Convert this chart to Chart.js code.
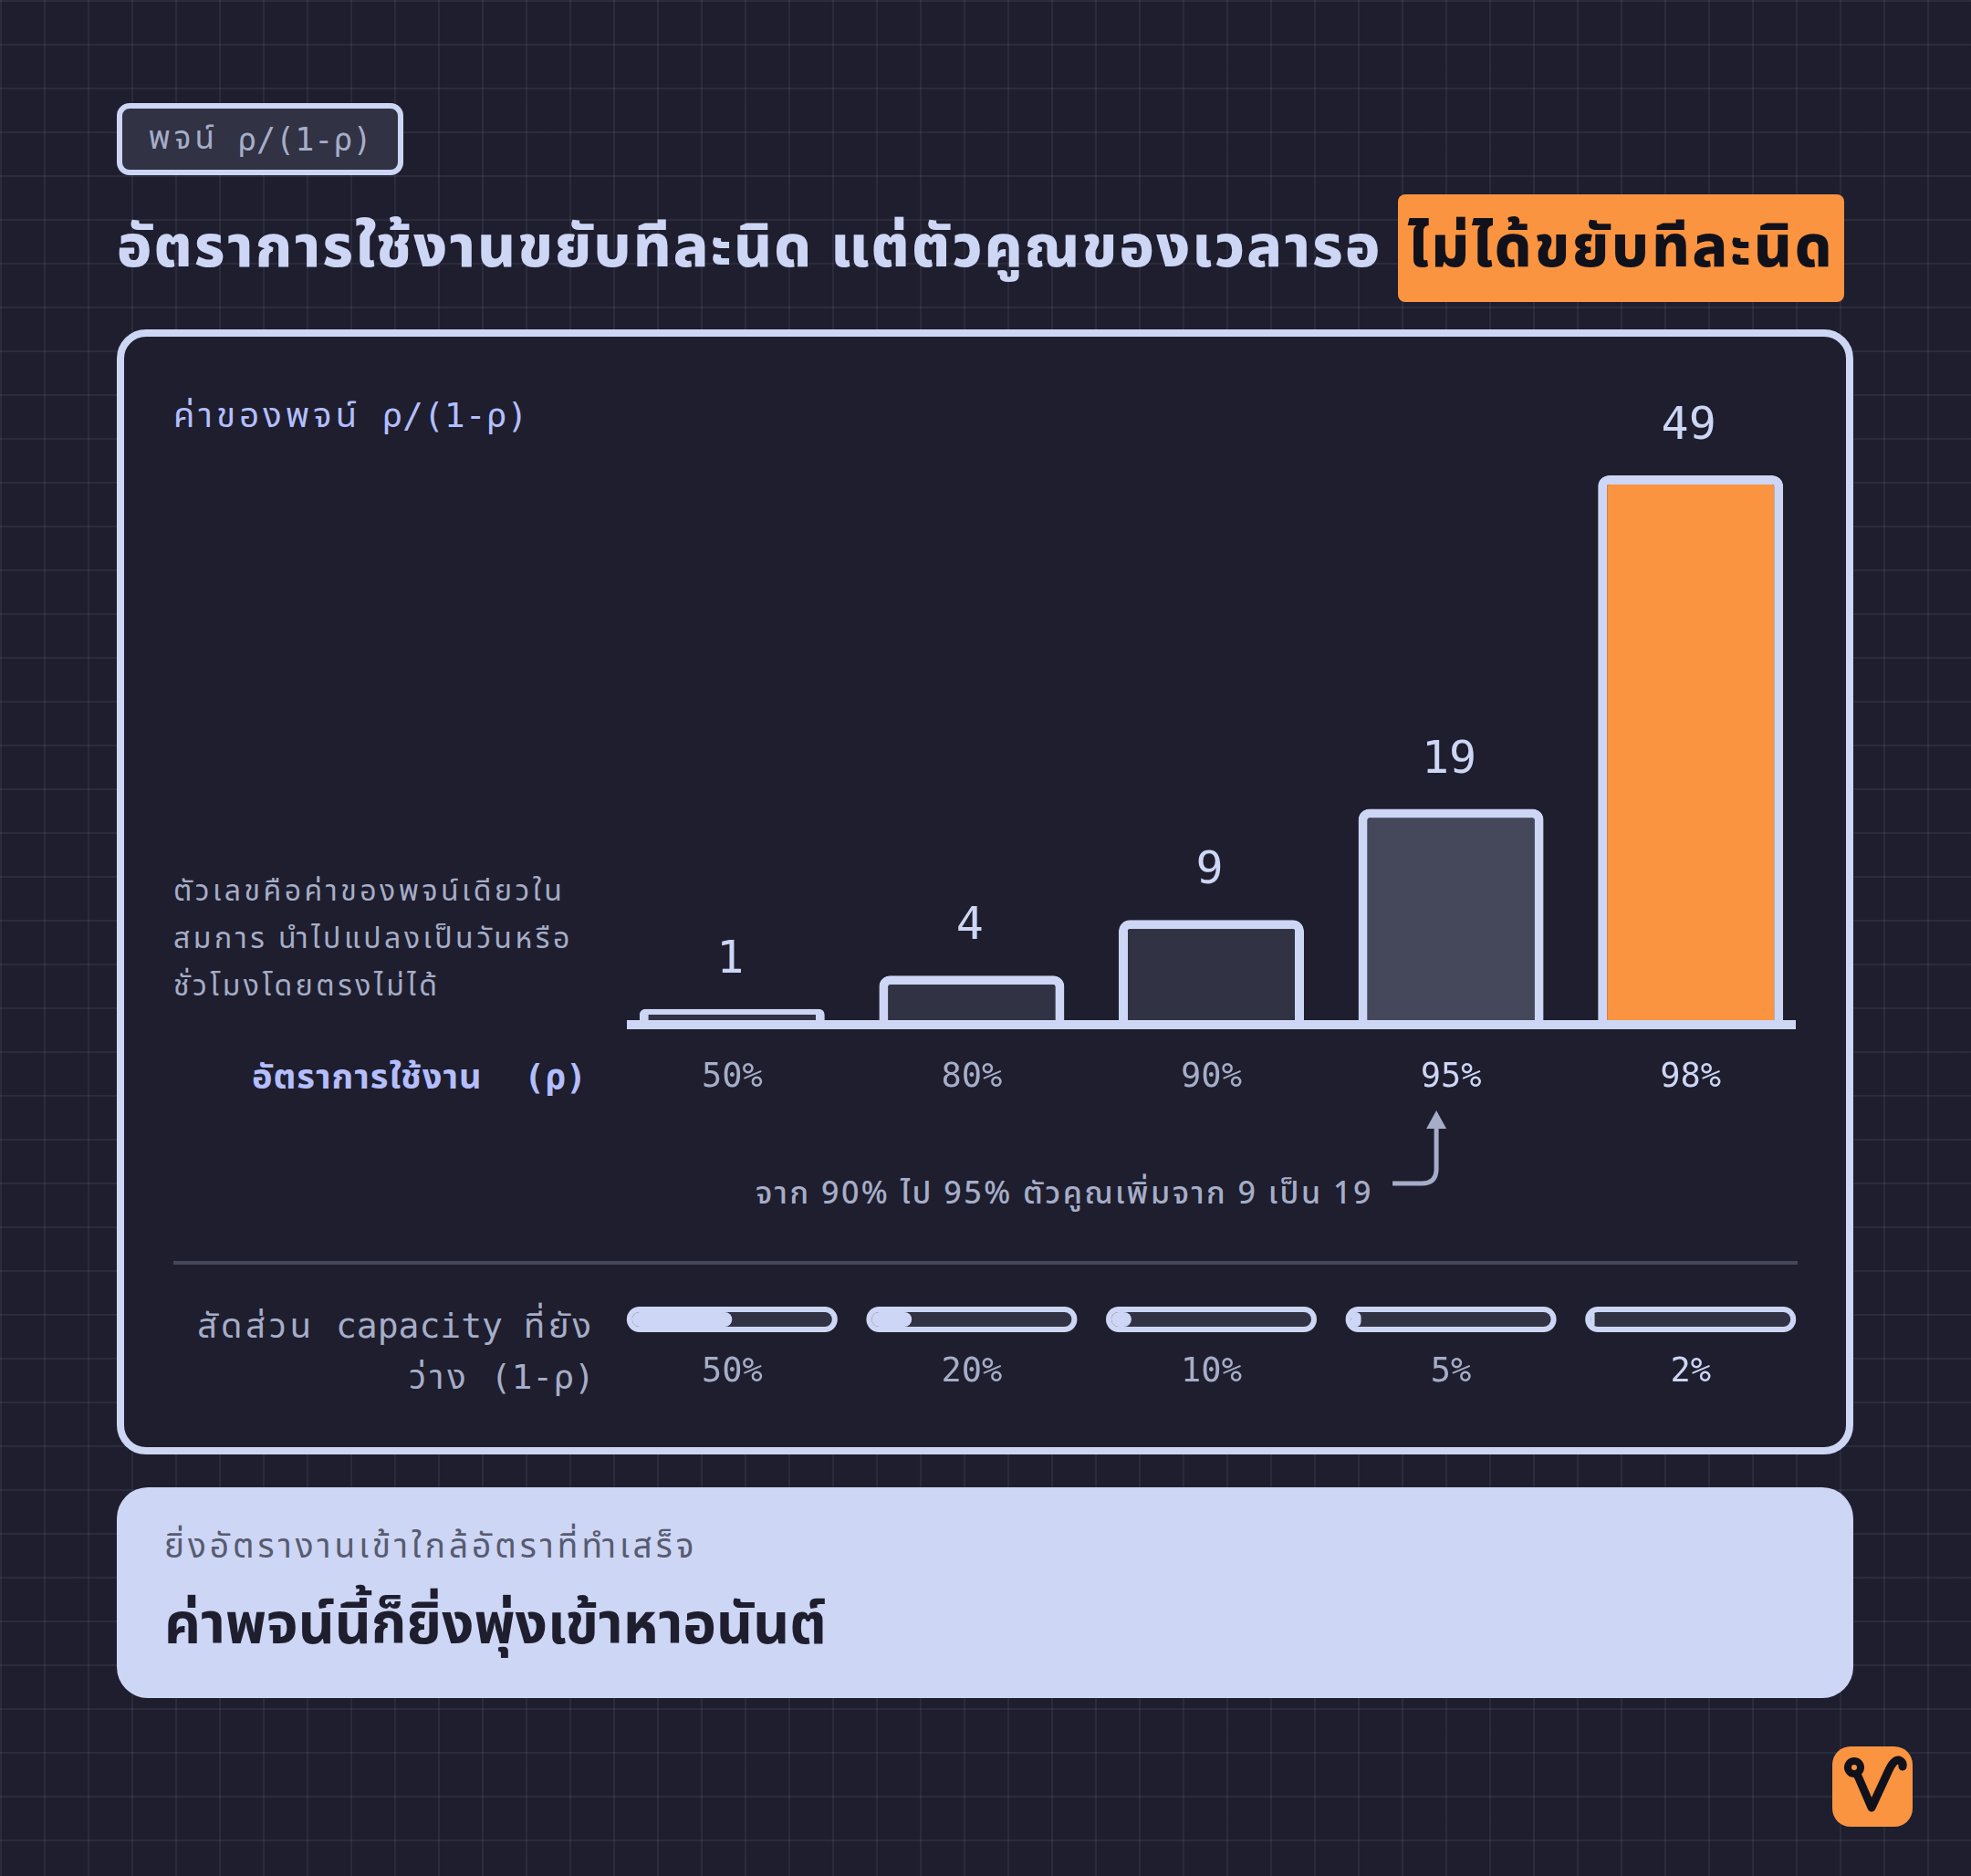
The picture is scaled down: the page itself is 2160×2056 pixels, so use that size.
<!DOCTYPE html>
<html><head><meta charset="utf-8">
<script src="https://cdn.jsdelivr.net/npm/chart.js@4.4.1/dist/chart.umd.min.js"></script>
<style>
html,body{margin:0;padding:0;}
body{width:2160px;height:2056px;position:relative;overflow:hidden;background-color:#1e1e2e;
background-image:linear-gradient(to right, rgba(205,214,244,0.07) 2px, transparent 2px),linear-gradient(to bottom, rgba(205,214,244,0.07) 2px, transparent 2px);
background-size:48px 48px;background-position:0 0;}
.abs{position:absolute;}
.mono{font-family:"DejaVu Sans Mono","Liberation Mono","Noto Sans Thai",monospace;}
.sans{font-family:"Noto Sans","Noto Sans Thai",sans-serif;}
.th{font-family:"Noto Sans Thai","Noto Sans Thai UI","Noto Sans",sans-serif;letter-spacing:4px;}
.tag{left:128px;top:113px;width:314px;height:79px;box-sizing:border-box;border:6px solid #cdd6f4;border-radius:14px;background:#313244;color:#a6adc8;font-size:35px;display:flex;align-items:center;justify-content:center;white-space:pre;}
.title{left:128px;top:213px;height:118px;display:flex;align-items:center;color:#cdd6f4;font-size:64px;font-weight:800;letter-spacing:2.2px;white-space:nowrap;}
.hl{left:1532px;top:213px;width:489px;height:118px;background:#fa9440;border-radius:8px;color:#11111b;font-size:64px;font-weight:800;letter-spacing:2.8px;display:flex;align-items:center;justify-content:center;white-space:nowrap;}
.panel{left:128px;top:361px;width:1903px;height:1233px;box-sizing:border-box;border:8px solid #cdd6f4;border-radius:32px;background:#1e1e2e;}
.ylab{left:190px;top:425px;height:60px;line-height:60px;color:#b4befe;font-size:38px;white-space:pre;}
.ylab .th{letter-spacing:4.2px;}
.note{left:190px;top:950px;line-height:50px;font-size:32px;color:#a6adc8;white-space:nowrap;}
.note .th{letter-spacing:3.5px;}
.xlab{right:1517px;top:1150px;height:60px;line-height:60px;font-size:38px;font-weight:700;color:#b4befe;white-space:pre;text-align:right;}
.xlab .th{letter-spacing:1px;}
.annot{left:828px;top:1281px;height:50px;line-height:50px;font-size:34px;font-weight:500;letter-spacing:2.5px;color:#a6adc8;white-space:nowrap;}
.divider{left:190px;top:1382px;width:1780px;height:4px;background:#45475a;}
.plab{right:1508px;top:1426px;line-height:55px;font-size:38px;color:#a6adc8;text-align:right;white-space:pre;}
.callout{left:128px;top:1630px;width:1903px;height:231px;background:#cdd6f4;border-radius:34px;}
.csub{left:180px;top:1670px;height:50px;line-height:50px;font-size:37px;color:#585b70;white-space:nowrap;}
.cmain{left:180px;top:1737px;height:80px;line-height:80px;font-size:62px;font-weight:700;color:#1e1e2e;white-space:nowrap;}
canvas{position:absolute;left:0;top:0;}
</style></head>
<body>
<div class="abs tag mono"><span class="th">พจน์</span> ρ/(1-ρ)</div>
<div class="abs title sans">อัตราการใช้งานขยับทีละนิด แต่ตัวคูณของเวลารอ</div>
<div class="abs hl sans">ไม่ได้ขยับทีละนิด</div>
<div class="abs panel"></div>
<div class="abs ylab mono"><span class="th">ค่าของพจน์</span> ρ/(1-ρ)</div>
<div class="abs note sans"><span class="th">ตัวเลขคือค่าของพจน์เดียวใน</span><br><span class="th">สมการ นำไปแปลงเป็นวันหรือ</span><br><span class="th">ชั่วโมงโดยตรงไม่ได้</span></div>
<div class="abs xlab mono"><span class="th">อัตราการใช้งาน</span>  (ρ)</div>
<div class="abs annot sans">จาก 90% ไป 95% ตัวคูณเพิ่มจาก 9 เป็น 19</div>
<div class="abs divider"></div>
<div class="abs plab mono"><span class="th">สัดส่วน</span> capacity <span class="th">ที่ยัง</span><br><span class="th">ว่าง</span> (1-ρ)</div>
<div class="abs callout"></div>
<div class="abs csub mono"><span class="th">ยิ่งอัตรางานเข้าใกล้อัตราที่ทำเสร็จ</span></div>
<div class="abs cmain sans">ค่าพจน์นี้ก็ยิ่งพุ่งเข้าหาอนันต์</div>
<svg class="abs" style="left:2008px;top:1914px" width="88" height="88" viewBox="0 0 88 88">
<rect x="0" y="0" width="88" height="88" rx="20" fill="#fa9440"/>
<path d="M24 23 L43 67 L61 28 Q67 14 73 15 Q78 17 77 22" fill="none" stroke="#11111b" stroke-width="9" stroke-linecap="round" stroke-linejoin="round"/>
<circle cx="24" cy="23" r="11" fill="#11111b"/>
<circle cx="24" cy="23" r="3" fill="#fa9440"/>
</svg>
<canvas id="c" width="2160" height="2056"></canvas>
<script>
// ---- data ----
const categories = ['50%', '80%', '90%', '95%', '98%'];
const factorValues = [1, 4, 9, 19, 49];
const freeCapacity = [50, 20, 10, 5, 2];
const freeLabels = ['50%', '20%', '10%', '5%', '2%'];
const highlightFrom = 3; // categories from this index are emphasised

const MONO = '"DejaVu Sans Mono","Liberation Mono","Noto Sans Thai",monospace';
const LAV = '#cdd6f4', SUB = '#a6adc8';

const overlay = {
  id: 'overlay',
  afterDatasetsDraw(chart) {
    const ctx = chart.ctx, ca = chart.chartArea;
    const x = chart.scales.x, y = chart.scales.y;
    const zero = y.getPixelForValue(0);
    const meta = chart.getDatasetMeta(0);
    ctx.save();
    // baseline
    ctx.fillStyle = LAV;
    ctx.fillRect(ca.left + 16, zero, ca.right - ca.left - 32, 10);
    // value labels
    ctx.textAlign = 'center';
    ctx.textBaseline = 'alphabetic';
    ctx.font = '50px ' + MONO;
    meta.data.forEach((el, i) => {
      ctx.fillStyle = LAV;
      ctx.fillText(String(factorValues[i]), el.x - 2, el.y - 40);
    });
    // category labels
    ctx.textBaseline = 'middle';
    ctx.font = '37px ' + MONO;
    categories.forEach((c, i) => {
      ctx.fillStyle = i >= highlightFrom ? LAV : SUB;
      ctx.fillText(c, x.getPixelForValue(i), zero + 63);
    });
    // capacity pills
    const pw = 231, ph = 28, bw = 6;
    freeCapacity.forEach((v, i) => {
      const cx = x.getPixelForValue(i), cy = zero + 328;
      const l = cx - pw / 2, t = cy - ph / 2;
      ctx.fillStyle = LAV;
      ctx.beginPath(); ctx.roundRect(l, t, pw, ph, ph / 2); ctx.fill();
      const il = l + bw, it = t + bw, iw = pw - 2 * bw, ih = ph - 2 * bw;
      ctx.fillStyle = '#313244';
      ctx.beginPath(); ctx.roundRect(il, it, iw, ih, ih / 2); ctx.fill();
      const fw = Math.max(iw * v / 100, 4);
      ctx.fillStyle = LAV;
      ctx.beginPath(); ctx.roundRect(il, it, fw, ih, Math.min(ih / 2, fw / 2)); ctx.fill();
      ctx.fillStyle = i >= highlightFrom + 1 ? LAV : SUB;
      ctx.fillText(freeLabels[i], cx, zero + 386);
    });
    // annotation arrow pointing at the 95% label
    const ax = x.getPixelForValue(3) - 16;
    const ay = zero + 179;
    ctx.strokeStyle = SUB; ctx.fillStyle = SUB;
    ctx.lineWidth = 5; ctx.lineCap = 'butt';
    ctx.beginPath();
    ctx.moveTo(ax - 48, ay);
    ctx.lineTo(ax - 16, ay);
    ctx.quadraticCurveTo(ax, ay, ax, ay - 16);
    ctx.lineTo(ax, ay - 62);
    ctx.stroke();
    ctx.beginPath();
    ctx.moveTo(ax, ay - 80);
    ctx.lineTo(ax - 11, ay - 60);
    ctx.lineTo(ax + 11, ay - 60);
    ctx.closePath(); ctx.fill();
    ctx.restore();
  }
};

new Chart(document.getElementById('c'), {
  type: 'bar',
  data: {
    labels: categories,
    datasets: [{
      data: factorValues,
      backgroundColor: ['#313244', '#313244', '#313244', '#45475a', '#fa9440'],
      borderColor: LAV,
      borderWidth: 10,
      borderRadius: 12,
      borderSkipped: 'bottom',
      barPercentage: 0.773,
      categoryPercentage: 1
    }]
  },
  options: {
    responsive: false,
    devicePixelRatio: 1,
    animation: false,
    layout: { padding: { left: 671, right: 176, top: 448, bottom: 938 } },
    plugins: { legend: { display: false }, tooltip: { enabled: false } },
    scales: {
      x: { display: false },
      y: { display: false, min: 0, max: 55 }
    }
  },
  plugins: [overlay]
});
</script>
</body></html>
